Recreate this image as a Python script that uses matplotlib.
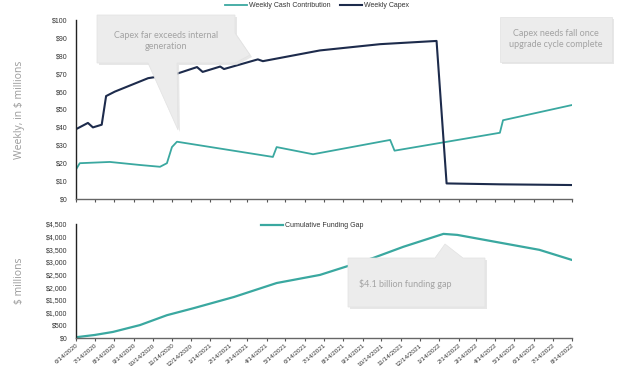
import matplotlib
matplotlib.use("Agg")
import matplotlib.pyplot as plt
from matplotlib.patches import Polygon
from matplotlib.ticker import FuncFormatter, MultipleLocator
import pandas as pd

# ---------------- data ----------------
capex_dates = ["2020-06-14", "2020-07-03", "2020-07-11", "2020-07-25", "2020-08-01",
               "2020-08-15", "2020-10-07", "2020-11-22", "2020-12-24", "2021-01-02",
               "2021-01-30", "2021-02-05", "2021-03-31", "2021-04-08", "2021-07-08",
               "2021-10-12", "2022-01-10", "2022-01-26", "2022-04-21", "2022-08-14"]
capex_vals = [39, 42.5, 40, 41.5, 57.5, 60, 67.5, 70, 73.7, 71,
              74, 72.6, 78, 77, 83, 86.5, 88.3, 8.7, 8.2, 7.8]

cash_dates = ["2020-06-14", "2020-06-20", "2020-08-07", "2020-09-24", "2020-10-26",
              "2020-11-06", "2020-11-14", "2020-11-22", "2021-04-24", "2021-04-30",
              "2021-06-27", "2021-10-28", "2021-11-04", "2022-04-21", "2022-04-26",
              "2022-08-14"]
cash_vals = [16.5, 20, 20.7, 19, 18, 20, 29, 32, 23.5, 29,
             25, 33, 27, 37, 44, 52.5]

gap_dates = ["2020-06-14", "2020-07-14", "2020-08-12", "2020-09-24", "2020-11-06",
             "2020-12-19", "2021-02-21", "2021-04-30", "2021-07-08", "2021-10-01",
             "2021-11-18", "2022-01-21", "2022-02-12", "2022-04-24", "2022-06-23",
             "2022-08-14"]
gap_vals = [30, 120, 240, 510, 900, 1180, 1620, 2170, 2490, 3160,
            3600, 4110, 4070, 3750, 3480, 3080]

tick_dates = pd.date_range("2020-06-01", "2022-08-01", freq="MS") + pd.Timedelta(days=13)
tick_labels = [f"{d.month}/{d.day}/{d.year}" for d in tick_dates]

NAVY = "#1d2b4c"
TEAL = "#3aa8a0"
TXT = "#333333"
GRAY_TXT = "#a3a3a3"

plt.rcParams["font.family"] = ["Liberation Sans", "DejaVu Sans"]

fig = plt.figure(figsize=(6.4, 3.66), dpi=100)
W, H = 640.0, 366.0


def fx(x):
    return x / W


def fy(y):
    return 1 - y / H


ax1 = fig.add_axes([fx(76), fy(199), fx(572) - fx(76), fy(20) - fy(199)])
ax2 = fig.add_axes([fx(76), fy(338), fx(572) - fx(76), fy(224) - fy(338)])

ax1.plot(pd.to_datetime(cash_dates), cash_vals, color=TEAL, lw=1.3, label="Weekly Cash Contribution")
ax1.plot(pd.to_datetime(capex_dates), capex_vals, color=NAVY, lw=1.5, label="Weekly Capex")
ax2.plot(pd.to_datetime(gap_dates), gap_vals, color=TEAL, lw=1.6, label="Cumulative Funding Gap")

ax1.set_ylim(0, 100)
ax1.yaxis.set_major_locator(MultipleLocator(10))
ax1.yaxis.set_major_formatter(FuncFormatter(lambda v, p: r"\$%d" % v))
ax2.set_ylim(0, 4500)
ax2.yaxis.set_major_locator(MultipleLocator(500))
ax2.yaxis.set_major_formatter(FuncFormatter(lambda v, p: r"\${:,.0f}".format(v)))

for ax in (ax1, ax2):
    ax.set_xlim(tick_dates[0], tick_dates[-1])
    ax.set_xticks(tick_dates)
    for s in ("top", "right"):
        ax.spines[s].set_visible(False)
    ax.spines["left"].set_color("#222222")
    ax.spines["bottom"].set_color("#666666")
    ax.spines["left"].set_linewidth(1.0)
    ax.spines["bottom"].set_linewidth(1.0)
    ax.tick_params(axis="y", length=0, labelsize=5, labelcolor=TXT, pad=6)
    ax.tick_params(axis="x", length=2.5, width=0.8, color="#555555", direction="out",
                   labelsize=4.6, labelcolor=TXT, pad=1)

ax1.set_xticklabels([])
ax2.set_xticklabels(tick_labels, rotation=40, ha="right", rotation_mode="anchor")

ax1.set_ylabel(r"Weekly, in \$ millions", fontsize=7.5, color="#9a9a9a",
               family=["Open Sans", "DejaVu Sans"])
ax2.set_ylabel(r"\$ millions", fontsize=7.5, color="#9a9a9a", family=["Open Sans", "DejaVu Sans"])
ax1.yaxis.set_label_coords(-(76 - 25) / (572 - 76), 0.5)
ax2.yaxis.set_label_coords(-(76 - 25) / (572 - 76), 0.5)

leg1 = ax1.legend(loc="lower left", bbox_to_anchor=(fx(222), fy(12)), bbox_transform=fig.transFigure,
                  ncol=2, frameon=False, fontsize=5, handlelength=3.2, handletextpad=0.3,
                  columnspacing=1.3, borderaxespad=0)
leg2 = ax2.legend(loc="lower left", bbox_to_anchor=(fx(258), fy(232)), bbox_transform=fig.transFigure,
                  frameon=False, fontsize=5, handlelength=3.2, handletextpad=0.3, borderaxespad=0)
for lg in (leg1, leg2):
    for t in lg.get_texts():
        t.set_color(TXT)


# ---------------- callouts ----------------
def callout(points, text, tx, ty):
    pts = [(fx(x), fy(y)) for x, y in points]
    shadow = [(fx(x + 2), fy(y + 2)) for x, y in points]
    fig.patches.append(Polygon(shadow, closed=True, transform=fig.transFigure,
                               facecolor="#d8d8d8", edgecolor="none", alpha=0.6, zorder=5))
    fig.patches.append(Polygon(pts, closed=True, transform=fig.transFigure,
                               facecolor="#ececec", edgecolor="#e2e2e2", lw=0.5, zorder=6))
    fig.text(fx(tx), fy(ty), text, ha="center", va="center", fontsize=6.5, color=GRAY_TXT,
             family=["Lato", "DejaVu Sans"], zorder=7, linespacing=1.4)


callout([(97, 15), (235, 15), (235, 33), (250, 55), (235, 63), (177, 63), (178, 130),
         (148, 63), (97, 63)],
        "Capex far exceeds internal\ngeneration", 166, 41)
callout([(500, 17), (612, 17), (612, 62), (500, 62)],
        "Capex needs fall once\nupgrade cycle complete", 556, 39)
callout([(348, 258), (435, 258), (445, 244), (463, 258), (485, 258), (485, 307), (348, 307)],
        r"\$4.1 billion funding gap", 405, 284)

fig.savefig("out.png", dpi=100)
